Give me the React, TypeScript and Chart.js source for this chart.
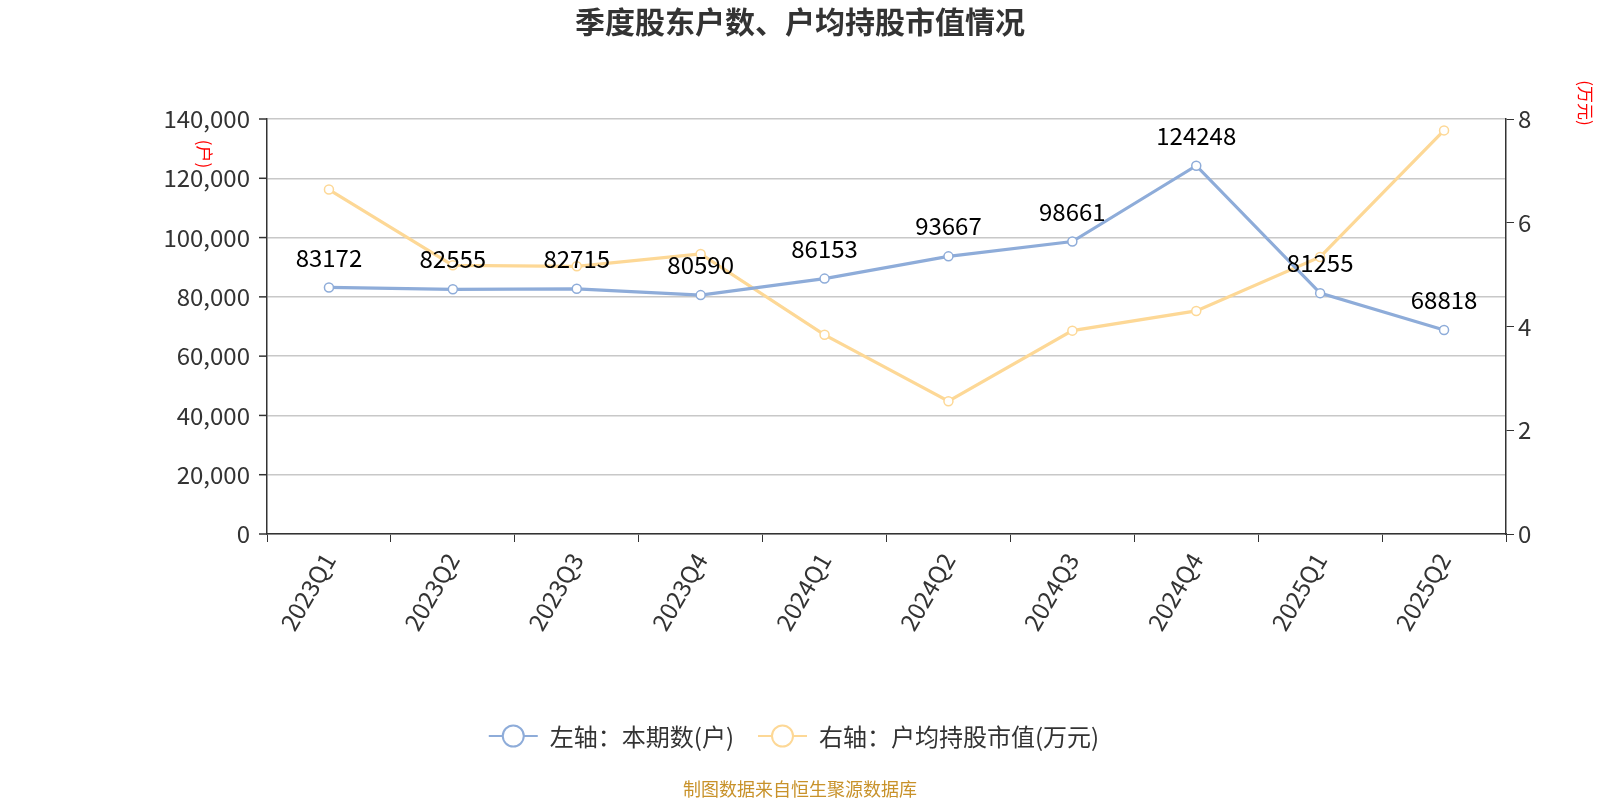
import React, { useEffect, useRef } from "react";
import { Chart, registerables } from "chart.js";

Chart.register(...registerables);

const categories = ["2023Q1", "2023Q2", "2023Q3", "2023Q4", "2024Q1", "2024Q2", "2024Q3", "2024Q4", "2025Q1", "2025Q2"];
const holders = [83172, 82555, 82715, 80590, 86153, 93667, 98661, 124248, 81255, 68818];
const avgValue = [6.64, 5.18, 5.16, 5.4, 3.84, 2.56, 3.92, 4.3, 5.34, 7.78];
const leftTicks = [0, 20000, 40000, 60000, 80000, 100000, 120000, 140000];
const rightTicks = [0, 2, 4, 6, 8];
const seriesNames = ["左轴：本期数(户)", "右轴：户均持股市值(万元)"];
const titleText = "季度股东户数、户均持股市值情况";
const footerText = "制图数据来自恒生聚源数据库";
const leftUnit = "(户)";
const rightUnit = "(万元)";

const BLUE = "#8eacd9";
const ORANGE = "#fdd896";
const FONT = "'Noto Sans CJK SC', 'Noto Sans', sans-serif";

export default function App() {
  const ref = useRef<HTMLCanvasElement | null>(null);

  useEffect(() => {
    document.body.style.margin = "0";
    const canvas = ref.current;
    if (!canvas) return;

    const overlay = {
      id: "overlay",
      afterDatasetsDraw(chart: any) {
        const ctx = chart.ctx;
        ctx.save();
        const meta = chart.getDatasetMeta(0);
        ctx.font = `24px ${FONT}`;
        ctx.fillStyle = "#000";
        ctx.textAlign = "center";
        ctx.textBaseline = "middle";
        meta.data.forEach((pt: any, i: number) => {
          ctx.fillText(String(holders[i]), pt.x, pt.y - 30);
        });
        ctx.restore();
      },
      afterDraw(chart: any) {
        const ctx = chart.ctx;
        const cx = 800;
        ctx.save();
        ctx.font = `bold 30px ${FONT}`;
        ctx.fillStyle = "#333";
        ctx.textAlign = "center";
        ctx.textBaseline = "middle";
        ctx.fillText(titleText, cx, 22);
        ctx.font = `18px ${FONT}`;
        ctx.fillStyle = "#c8922a";
        ctx.fillText(footerText, cx, 789);
        ctx.font = `17px ${FONT}`;
        ctx.fillStyle = "#ff0000";
        ctx.save();
        ctx.translate(204, 154);
        ctx.rotate(Math.PI / 2);
        ctx.fillText(leftUnit, 0, 0);
        ctx.restore();
        ctx.save();
        ctx.translate(1585, 103);
        ctx.rotate(Math.PI / 2);
        ctx.fillText(rightUnit, 0, 0);
        ctx.restore();
        // legend
        ctx.font = `24px ${FONT}`;
        ctx.textAlign = "left";
        const colors = [BLUE, ORANGE];
        const markerW = 49;
        const gapAfterMarker = 12;
        const gapBetween = 24;
        const widths = seriesNames.map((s) => ctx.measureText(s).width);
        const total = widths.reduce((a, w) => a + markerW + gapAfterMarker + w, 0) + gapBetween;
        let x = 794 - total / 2;
        const y = 736;
        seriesNames.forEach((s, i) => {
          ctx.strokeStyle = colors[i];
          ctx.lineWidth = 2;
          ctx.beginPath();
          ctx.moveTo(x, y);
          ctx.lineTo(x + markerW, y);
          ctx.stroke();
          ctx.beginPath();
          ctx.arc(x + markerW / 2, y, 10.5, 0, Math.PI * 2);
          ctx.fillStyle = "#fff";
          ctx.fill();
          ctx.stroke();
          ctx.fillStyle = "#333";
          ctx.textBaseline = "middle";
          ctx.fillText(s, x + markerW + gapAfterMarker, y + 1);
          x += markerW + gapAfterMarker + widths[i] + gapBetween;
        });
        ctx.restore();
      },
    };

    const chart = new Chart(canvas, {
      type: "line",
      data: {
        labels: categories,
        datasets: [
          {
            label: seriesNames[0],
            data: holders,
            yAxisID: "y",
            borderColor: BLUE,
            backgroundColor: "#fff",
            borderWidth: 3.2,
            pointRadius: 4.5,
            pointBorderWidth: 1.5,
            pointBackgroundColor: "#fff",
            pointBorderColor: BLUE,
            tension: 0,
          },
          {
            label: seriesNames[1],
            data: avgValue,
            yAxisID: "y1",
            borderColor: ORANGE,
            backgroundColor: "#fff",
            borderWidth: 3.2,
            pointRadius: 4.5,
            pointBorderWidth: 1.5,
            pointBackgroundColor: "#fff",
            pointBorderColor: ORANGE,
            tension: 0,
          },
        ],
      },
      options: {
        responsive: false,
        animation: false,
        events: [],
        layout: { padding: { top: 119, left: 0, right: 0, bottom: 0 } },
        plugins: {
          legend: { display: false },
          title: { display: false },
          tooltip: { enabled: false },
        },
        scales: {
          x: {
            type: "category",
            offset: true,
            grid: {
              offset: true,
              drawOnChartArea: false,
              drawTicks: true,
              tickLength: 8,
              color: "#333",
            },
            border: { display: true, color: "#333", width: 1.5 },
            ticks: {
              color: "#333",
              font: { size: 24, family: FONT },
              minRotation: 60,
              maxRotation: 60,
              padding: 6,
            },
            afterFit(scale: any) {
              scale.height = 266;
            },
          },
          y: {
            type: "linear",
            position: "left",
            min: 0,
            max: 140000,
            afterBuildTicks(scale: any) {
              scale.ticks = leftTicks.map((v) => ({ value: v }));
            },
            grid: {
              color: "#c8c8c8",
              lineWidth: 1.5,
              drawTicks: false,
            },
            border: { display: true, color: "#333", width: 1.5 },
            ticks: {
              color: "#333",
              font: { size: 24, family: FONT },
              padding: 17,
              callback: (v: any) => Number(v).toLocaleString("en-US"),
            },
            afterFit(scale: any) {
              scale.width = 267;
            },
          },
          y1: {
            type: "linear",
            position: "right",
            min: 0,
            max: 8,
            afterBuildTicks(scale: any) {
              scale.ticks = rightTicks.map((v) => ({ value: v }));
            },
            grid: {
              drawOnChartArea: false,
              drawTicks: true,
              tickLength: 8,
              color: "#333",
            },
            border: { display: true, color: "#333", width: 1.5 },
            ticks: {
              color: "#333",
              font: { size: 24, family: FONT },
              padding: 4,
            },
            afterFit(scale: any) {
              scale.width = 94;
            },
          },
        },
      },
      plugins: [
        overlay,
        {
          id: "leftTickMarks",
          afterDraw(chart: any) {
            const ctx = chart.ctx;
            const ys = chart.scales.y;
            ctx.save();
            ctx.strokeStyle = "#333";
            ctx.lineWidth = 1.5;
            leftTicks.forEach((v) => {
              const yy = ys.getPixelForValue(v);
              ctx.beginPath();
              ctx.moveTo(ys.right - 8, yy);
              ctx.lineTo(ys.right, yy);
              ctx.stroke();
            });
            ctx.restore();
          },
        },
      ],
    } as any);

    return () => chart.destroy();
  }, []);

  return <canvas ref={ref} width={1600} height={800} style={{ display: "block" }} />;
}
